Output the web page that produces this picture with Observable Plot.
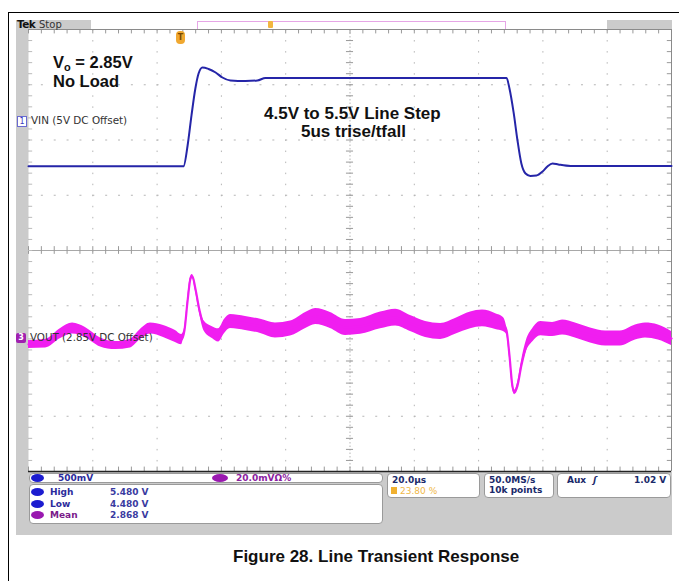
<!DOCTYPE html>
<html><head><meta charset="utf-8">
<script src="https://cdn.jsdelivr.net/npm/d3@7"></script>
<script src="https://cdn.jsdelivr.net/npm/@observablehq/plot@0.6"></script>
<style>
body{margin:0;background:#fff;}
#wrap{position:relative;width:679px;height:581px;overflow:hidden;font-family:"DejaVu Sans",sans-serif;}
.abs{position:absolute;}
#border{left:8px;top:12px;width:700px;height:600px;border-left:1.5px solid #000;border-top:1.5px solid #000;}
#screen{left:16px;top:20px;width:656px;height:515px;background:#cbcbcb;}
#topwhite{left:91px;top:20px;width:516px;height:9px;background:#fff;}
#chart{position:absolute;left:0;top:0;}
.box{position:absolute;background:#fff;border:1px solid #9a9a9a;border-radius:4px;box-sizing:border-box;}
.t{position:absolute;font-size:9px;white-space:nowrap;line-height:10px;font-weight:bold;}
.oval{position:absolute;width:13px;height:8px;border-radius:50%;}
.ann{position:absolute;font-family:"Liberation Sans",Arial,sans-serif;font-weight:bold;color:#111;white-space:nowrap;}
</style></head>
<body><div id="wrap">
<div id="border" class="abs"></div>
<div id="screen" class="abs"></div>
<div id="topwhite" class="abs"></div>
<div id="chart"></div>
</div>
<script>
// ---- channel settings ----
const ch1 = {label: "VIN (5V DC Offset)", offsetV: 5, posDiv: 2.335, voltsPerDiv: 0.628};
const ch3 = {label: "VOUT (2.85V DC Offset)", offsetV: 2.85, posDiv: -1.593, mVPerDiv: 25.1};

// ---- VIN trace (channel 1), time in µs, volts ----
const vinTime  = [0, 37.9, 48.2, 49.5, 50.7, 51.9, 52.9, 54.1, 56.0, 58.2, 60.3, 62.8, 67.5, 71.2, 73.7, 148.7, 149.6, 150.9, 152.1, 153.3, 154.6, 156.1, 158.0, 159.9, 161.4, 163.0, 164.8, 168.6, 200];
const vinVolts = [4.49, 4.49, 4.49, 4.73, 5.07, 5.375, 5.545, 5.614, 5.597, 5.557, 5.50, 5.466, 5.46, 5.466, 5.494, 5.494, 5.375, 5.10, 4.784, 4.523, 4.409, 4.381, 4.386, 4.432, 4.489, 4.523, 4.511, 4.494, 4.494];

// ---- VOUT trace (channel 3), deviation from 2.85 V in mV, with noise half-band in mV ----
const voutTime = [0,5.3,10.0,13.7,17.7,22.4,27.1,31.7,34.8,37.9,42.0,45.7,47.6,48.5,49.5,50.4,51.0,51.9,53.2,54.7,57.2,59.1,61.0,62.8,67.5,72.2,76.8,81.5,86.2,89.3,93.9,98.6,103.3,109.5,114.2,118.8,123.5,128.2,132.8,137.5,141.2,145.3,147.7,148.7,149.6,150.5,151.2,152.1,153.3,154.9,156.8,159.3,163.0,166.1,170.1,174.8,179.5,184.1,188.8,191.9,195.9,200];
const voutMv = [-2.7,-2.3,2.3,4.5,2.7,-1.8,-3.2,-2.3,1.8,4.5,3.2,0.9,-0.5,3.6,17.3,27.3,28.2,22.7,12.7,5.5,2.7,1.4,5.5,7.7,6.8,5.5,3.6,4.5,8.2,10,8.2,5,5.5,8.2,9.5,6.8,4.1,3.2,5.5,8.2,9.1,7.7,6.4,3.6,-7.7,-21.4,-24.5,-21.4,-12.3,-3.2,1.4,4.5,4.1,5,3.6,1.4,0,0,2.7,3.6,2.7,0];
const voutNoise = [1.8,2,2.3,2.5,2.3,2,1.8,2,2.3,2.5,2.7,2.7,2.3,1,0.9,0.9,0.9,1,1.4,2.3,2.7,3,3.2,3.2,3.2,3.2,3.4,3.4,3.6,3.6,3.6,3.6,3.6,3.8,3.8,3.6,3.6,3.6,3.6,3.8,3.8,3.6,3.2,1.8,1,1,1,1.2,1.8,2.5,3,3.2,3.2,3.4,3.4,3.4,3.4,3.4,3.4,3.4,3.4,3.2];

// ---- graticule ----
const xDomain = [0, 200];   // 20 µs/div, 10 div
const yDomain = [-4, 4];    // 8 div

const vin = vinTime.map((t, i) => ({t, div: ch1.posDiv + (vinVolts[i] - ch1.offsetV) / ch1.voltsPerDiv}));
const mvToDiv = mv => ch3.posDiv + mv / ch3.mVPerDiv;
const vout = voutTime.map((t, i) => ({t, div: mvToDiv(voutMv[i]), lo: mvToDiv(voutMv[i] - voutNoise[i]), hi: mvToDiv(voutMv[i] + voutNoise[i])}));

const majorX = d3.range(20, 200, 20).filter(d => d !== 100);
const majorY = d3.range(-3, 4).filter(d => d !== 0);
const minorX = d3.range(0, 200.01, 4);
const minorY = d3.range(-4, 4.01, 0.2);
const grid = "#b5b5b5";

const chart = Plot.plot({
  width: 679, height: 540,
  marginLeft: 28, marginRight: 8, marginTop: 29, marginBottom: 69,
  x: {domain: xDomain, axis: null},
  y: {domain: yDomain, axis: null},
  style: {background: "transparent", overflow: "visible"},
  marks: [
    Plot.frame({fill: "white", stroke: null}),
    Plot.ruleX(majorX, {stroke: grid, strokeDasharray: "1.5,9.55", strokeWidth: 1}),
    Plot.ruleY(majorY, {stroke: grid, strokeDasharray: "2,10.86", strokeWidth: 1}),
    Plot.ruleX([100], {stroke: grid, strokeDasharray: "1.5,2"}),
    Plot.ruleY([0], {stroke: "#a8a8a8"}),
    Plot.ruleX(minorX, {y1: -0.07, y2: 0.07, stroke: "#999"}),
    Plot.ruleY(minorY, {x1: 98.9, x2: 101.1, stroke: "#999"}),
    Plot.ruleX(minorX, {y1: 4, y2: 3.92, stroke: "#999"}),
    Plot.ruleX(minorX, {y1: -4, y2: -3.92, stroke: "#999"}),
    Plot.ruleY(minorY, {x1: 198.7, x2: 200, stroke: "#999"}),
    Plot.ruleY(minorY, {x1: 0, x2: 1.3, stroke: "#bbb"}),
    Plot.ruleY([4], {stroke: "#8a8a8a"}),
    Plot.ruleX([200], {stroke: "#8a8a8a"}),
    Plot.ruleY([-4], {stroke: "#222", strokeWidth: 1.6}),
    Plot.areaY(vout, {x: "t", y1: "lo", y2: "hi", fill: "#f01ef0", curve: "monotone-x"}),
    Plot.line(vout, {x: "t", y: "div", stroke: "#f01ef0", strokeWidth: 2.2, curve: "monotone-x"}),
    Plot.line(vin, {x: "t", y: "div", stroke: "#2525a8", strokeWidth: 2, curve: "monotone-x"})
  ]
});
document.getElementById("chart").appendChild(chart);

// ---- overlay texts and scope panels ----
const wrap = document.getElementById("wrap");
function add(html, css, cls) {
  const d = document.createElement("div");
  if (cls) d.className = cls;
  d.style.cssText = "position:absolute;" + css;
  d.innerHTML = html;
  wrap.appendChild(d);
  return d;
}
// top bar
add("", "left:197px;top:21px;width:309px;height:8px;border:1px solid #e6a6e6;border-bottom:none;box-sizing:border-box;");
add("", "left:268px;top:21px;width:5px;height:7px;background:#f2b640;border-radius:1px;");
add("Tek", "left:17px;top:19px;font-size:10.5px;line-height:11px;font-weight:bold;color:#111;letter-spacing:-0.6px;");
add("Stop", "left:39px;top:19px;font-size:10px;line-height:11px;color:#333;");
add("T", "left:176px;top:31px;width:9px;height:13px;background:#f0a830;border-radius:4px;font-size:8px;line-height:13px;text-align:center;color:#7a4a00;font-weight:bold;");

// annotations
const yPx = d => 250 - d * 55.25;
add('V<span style="font-size:11px;vertical-align:-3px">o</span> = 2.85V', "left:53px;top:54px;font-size:16.5px;line-height:16px;", "ann");
add("No Load", "left:53px;top:73px;font-size:16.5px;line-height:16px;", "ann");
add("4.5V to 5.5V Line Step", "left:264px;top:106px;font-size:17px;line-height:16px;", "ann");
add("5us trise/tfall", "left:301px;top:124px;font-size:17px;line-height:16px;", "ann");

// channel labels
const y1 = yPx(ch1.posDiv), y3 = yPx(ch3.posDiv);
add("1", `left:17px;top:${y1-5}px;width:8px;height:9px;border:1px solid #6a6ad0;font-size:8px;line-height:9px;text-align:center;color:#3a3ac0;background:#fff;`);
add(ch1.label, `left:31px;top:${y1-6}px;font-size:10.4px;line-height:11px;color:#333;`);
add("3", `left:16px;top:${y3-5}px;width:10px;height:10px;background:#a020b0;border-radius:2px;font-size:8px;line-height:10px;text-align:center;color:#fff;font-weight:bold;`);
add(ch3.label, `left:30px;top:${y3-6}px;font-size:10.3px;line-height:11px;color:#333;`);

// bottom panels
add("", "left:29px;top:473px;width:354px;height:10px;", "box");
add("", "left:29px;top:484px;width:354px;height:40px;", "box");
add("", "left:387px;top:473px;width:93px;height:25px;", "box");
add("", "left:484px;top:473px;width:70px;height:25px;", "box");
add("", "left:557px;top:473px;width:114px;height:25px;", "box");

const blue = "#1c1cd0", purple = "#9a18b0";
add("", `left:31px;top:474px;background:${blue};`, "oval");
add("500mV", "left:58px;top:473px;color:#2b2b9b;", "t");
add("", `left:212px;top:474px;width:16px;background:${purple};`, "oval");
add("20.0mVΩ%", "left:236px;top:473px;color:#8a20a0;", "t");

const rows = [["High", "5.480 V", blue, "#2b2b9b"], ["Low", "4.480 V", blue, "#2b2b9b"], ["Mean", "2.868 V", purple, "#7a1a8a"]];
rows.forEach((r, i) => {
  const top = 487 + i * 11.5;
  add("", `left:31px;top:${top+1}px;background:${r[2]};`, "oval");
  add(r[0], `left:50px;top:${top}px;color:${r[3]};`, "t");
  add(r[1], `left:110px;top:${top}px;color:#3a3aa0;`, "t");
});
add("20.0µs", "left:392px;top:475px;color:#1a2a6a;", "t");
add("", "left:391px;top:487px;width:6px;height:7px;background:#f0b030;");
add("23.80 %", "left:400px;top:486px;color:#f0b848;font-weight:normal;", "t");
add("50.0MS/s", "left:489px;top:475px;color:#1a2a6a;", "t");
add("10k points", "left:489px;top:485px;color:#1a2a6a;", "t");
add("Aux", "left:567px;top:475px;color:#1a2a6a;", "t");
add("<i>ʃ</i>", "left:593px;top:475px;color:#1a2a6a;", "t");
add("1.02 V", "left:634px;top:475px;color:#1a2a6a;", "t");

// caption
add("Figure 28. Line Transient Response", "left:233px;top:548px;font-size:17px;line-height:18px;", "ann");
</script>
</body></html>
